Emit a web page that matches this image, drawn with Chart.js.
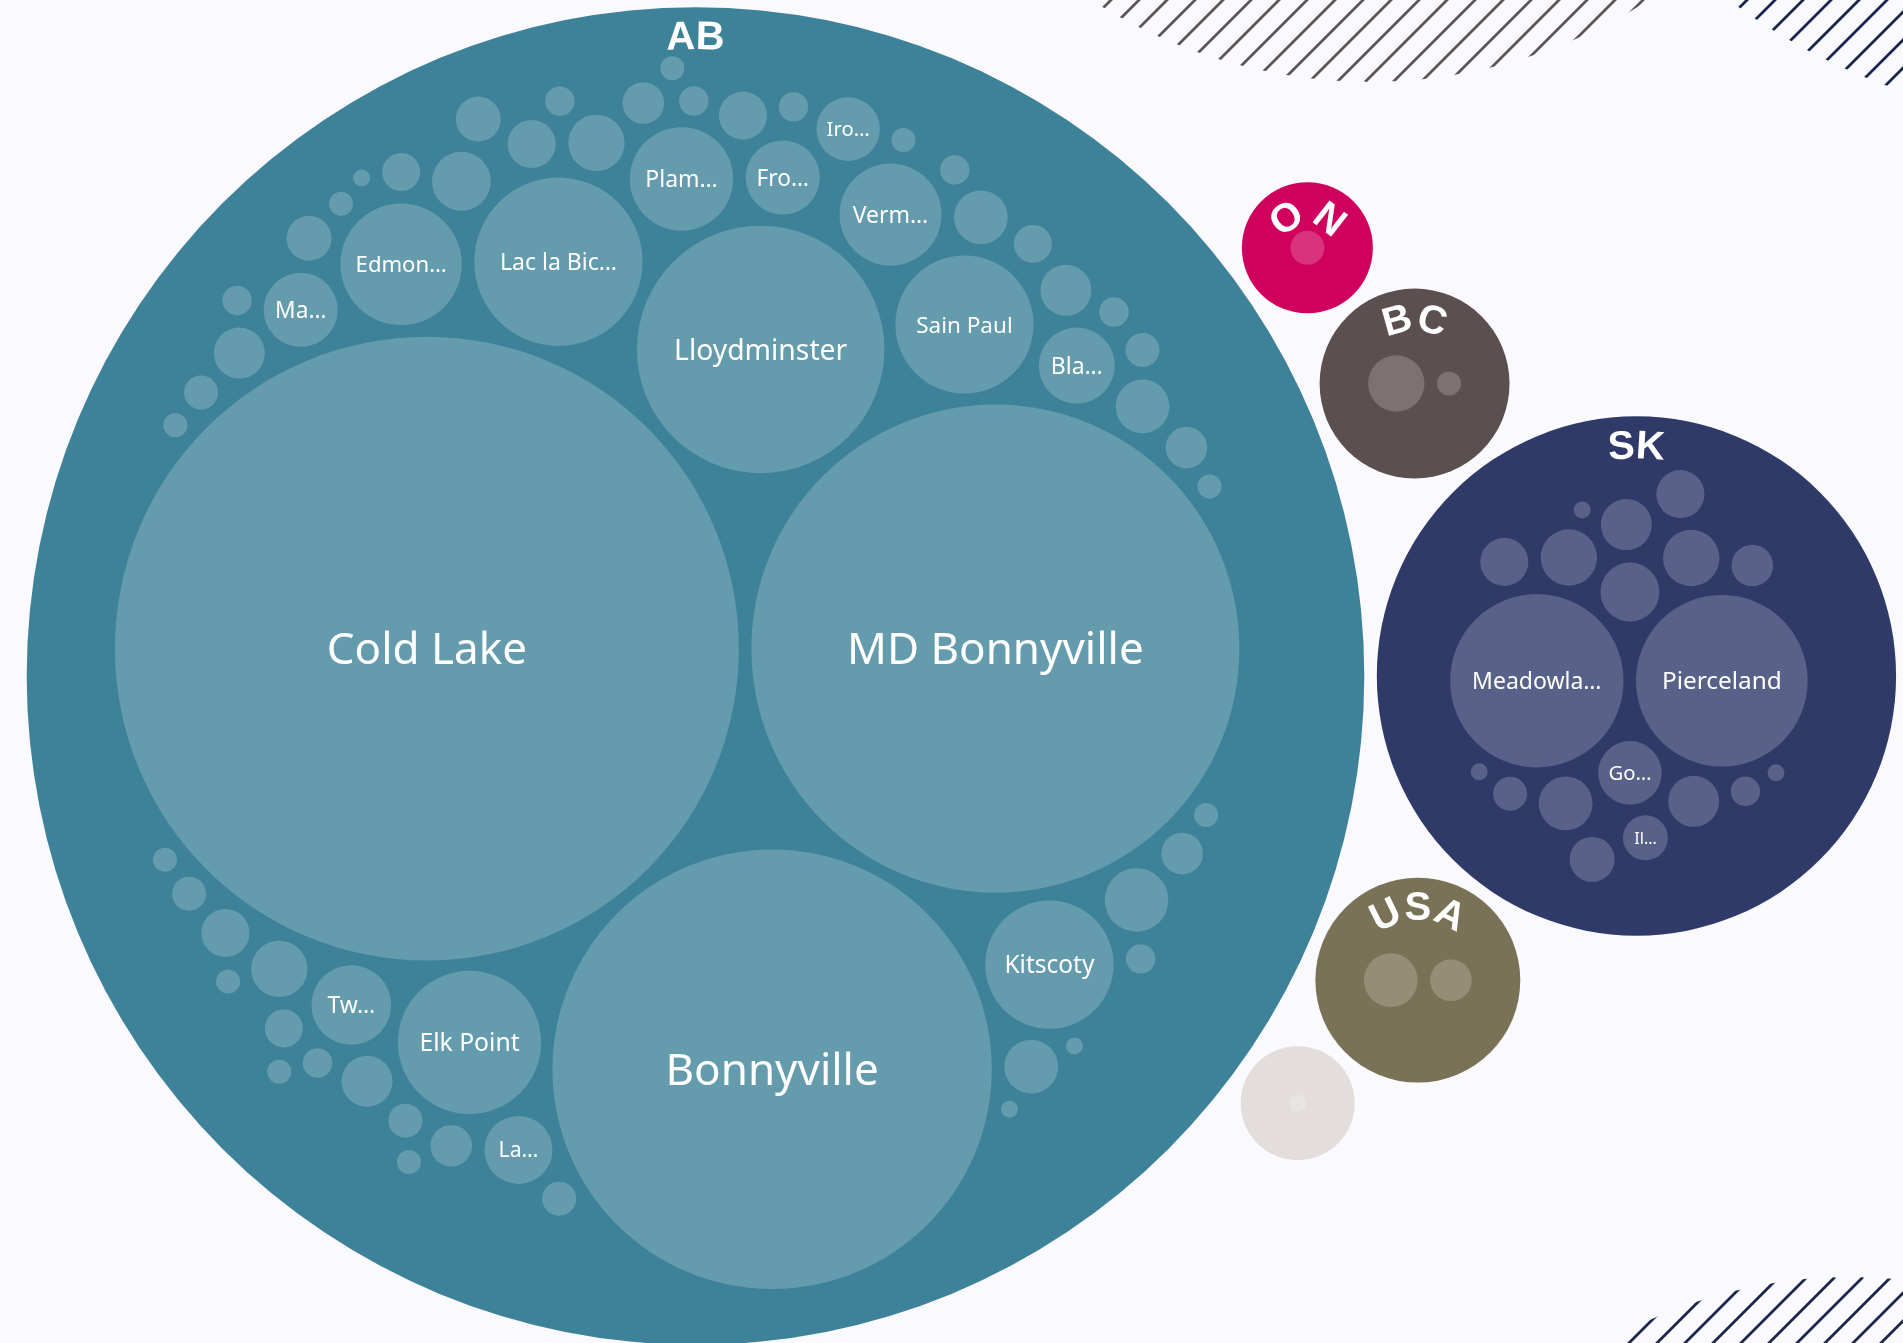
<!DOCTYPE html>
<html>
<head>
<meta charset="utf-8">
<title>Patients by community</title>
<script src="https://cdn.jsdelivr.net/npm/chart.js@4.4.1/dist/chart.umd.min.js"></script>
<style>
  html, body { margin: 0; padding: 0; background: #f9f9fe; overflow: hidden; }
  #wrap { width: 1903px; height: 1343px; position: relative; }
</style>
</head>
<body>
<div id="wrap"><canvas id="packChart"></canvas></div>
<script>
// outer circles
var regions = ['AB', 'SK', 'USA', 'BC', 'ON', ''];
var regionColors = ['#3e8299', '#2f3a69', '#7a7256', '#5c4f4f', '#d0005e', '#e3dedb'];

// communities inside each region (names shown as in the chart, '' = no label)
var abTowns = ['Cold Lake', 'MD Bonnyville', 'Bonnyville', 'Lloydminster', 'Lac la Bic…', 'Elk Point',
  'Sain Paul', 'Kitscoty', 'Edmon…', 'Plam…', 'Verm…', 'Tw…', 'Bla…', 'Ma…', 'Fro…', 'La…', 'Iro…'];
var abCounts = [1347, 824, 668, 212, 98, 71, 66, 57, 51, 37, 36, 22, 20, 19, 19, 16, 14,
  14, 12, 11, 11, 10, 10, 10, 9, 9, 9, 8, 8, 8, 7, 7, 6, 6, 6, 6, 5, 5, 5, 4, 4, 4, 4, 4,
  3, 3, 3, 3, 3, 3, 3, 3, 2, 2, 2, 2, 2, 2, 2, 2, 2, 2, 1, 1, 1];

var skTowns = ['Meadowla…', 'Pierceland', 'Go…', '', '', '', '', '', '', '', '', 'Il…'];
var skCounts = [104, 102, 14, 12, 11, 11, 10, 9, 9, 8, 8, 7, 7, 6, 4, 3, 1, 1, 1];

var usaCounts = [10, 6];
var bcCounts = [11, 2];
var onCounts = [4];
var otherCounts = [1];

var U = 8.5;     // px per sqrt(count)
var GAP = 12.5;  // space between circles
var PAD = 48.5;  // room between a region's rim and its communities

// --- front-chain circle packing (same idea as d3.packSiblings) ---
function place(b, a, c) {
  var dx = b.x - a.x, dy = b.y - a.y, d2 = dx * dx + dy * dy, x, y, a2, b2;
  if (d2) {
    a2 = a.r + c.r; a2 *= a2;
    b2 = b.r + c.r; b2 *= b2;
    if (a2 > b2) {
      x = (d2 + b2 - a2) / (2 * d2);
      y = Math.sqrt(Math.max(0, b2 / d2 - x * x));
      c.x = b.x - x * dx - y * dy;
      c.y = b.y - x * dy + y * dx;
    } else {
      x = (d2 + a2 - b2) / (2 * d2);
      y = Math.sqrt(Math.max(0, a2 / d2 - x * x));
      c.x = a.x + x * dx - y * dy;
      c.y = a.y + x * dy + y * dx;
    }
  } else {
    c.x = a.x + c.r;
    c.y = a.y;
  }
}

function intersects(a, b) {
  var dr = a.r + b.r - 1e-6, dx = b.x - a.x, dy = b.y - a.y;
  return dr > 0 && dr * dr > dx * dx + dy * dy;
}

function score(node) {
  var a = node._, b = node.next._, ab = a.r + b.r,
    dx = (a.x * b.r + b.x * a.r) / ab, dy = (a.y * b.r + b.y * a.r) / ab;
  return dx * dx + dy * dy;
}

function Node(c) { this._ = c; this.next = null; this.previous = null; }

function packSiblings(circles) {
  var n = circles.length, a, b, c, aa, ca, i, j, k, sj, sk;
  if (!n) return 0;
  a = circles[0]; a.x = 0; a.y = 0;
  if (n < 2) return a.r;
  b = circles[1]; a.x = -b.r; b.x = a.r; b.y = 0;
  if (n < 3) return a.r + b.r;
  place(b, a, c = circles[2]);
  a = new Node(a); b = new Node(b); c = new Node(c);
  a.next = c.previous = b;
  b.next = a.previous = c;
  c.next = b.previous = a;

  pack: for (i = 3; i < n; ++i) {
    place(a._, b._, c = circles[i]);
    c = new Node(c);
    j = b.next; k = a.previous; sj = b._.r; sk = a._.r;
    do {
      if (sj <= sk) {
        if (intersects(j._, c._)) {
          b = j; a.next = b; b.previous = a; --i;
          continue pack;
        }
        sj += j._.r; j = j.next;
      } else {
        if (intersects(k._, c._)) {
          a = k; a.next = b; b.previous = a; --i;
          continue pack;
        }
        sk += k._.r; k = k.previous;
      }
    } while (j !== k.next);

    c.previous = a; c.next = b; a.next = b.previous = b = c;
    aa = score(a);
    while ((c = c.next) !== b) {
      if ((ca = score(c)) < aa) { a = c; aa = ca; }
    }
    b = a.next;
  }

  var chain = [b._];
  c = b;
  while ((c = c.next) !== b) chain.push(c._);
  var e = enclose(chain);
  for (i = 0; i < n; ++i) { circles[i].x -= e.x; circles[i].y -= e.y; }
  return e.r;
}

// smallest circle around a set of circles
function enclose(circles) {
  var i = 0, n = circles.length, B = [], p, e;
  while (i < n) {
    p = circles[i];
    if (e && enclosesWeak(e, p)) ++i;
    else { B = extendBasis(B, p); e = encloseBasis(B); i = 0; }
  }
  return e;
}

function extendBasis(B, p) {
  var i, j;
  if (enclosesWeakAll(p, B)) return [p];
  for (i = 0; i < B.length; ++i) {
    if (enclosesNot(p, B[i]) && enclosesWeakAll(encloseBasis2(B[i], p), B)) return [B[i], p];
  }
  for (i = 0; i < B.length - 1; ++i) {
    for (j = i + 1; j < B.length; ++j) {
      if (enclosesNot(encloseBasis2(B[i], B[j]), p) &&
          enclosesNot(encloseBasis2(B[i], p), B[j]) &&
          enclosesNot(encloseBasis2(B[j], p), B[i]) &&
          enclosesWeakAll(encloseBasis3(B[i], B[j], p), B)) {
        return [B[i], B[j], p];
      }
    }
  }
  return [p];
}

function enclosesNot(a, b) {
  var dr = a.r - b.r, dx = b.x - a.x, dy = b.y - a.y;
  return dr < 0 || dr * dr < dx * dx + dy * dy;
}
function enclosesWeak(a, b) {
  var dr = a.r - b.r + Math.max(a.r, b.r, 1) * 1e-9, dx = b.x - a.x, dy = b.y - a.y;
  return dr > 0 && dr * dr > dx * dx + dy * dy;
}
function enclosesWeakAll(a, B) {
  for (var i = 0; i < B.length; ++i) if (!enclosesWeak(a, B[i])) return false;
  return true;
}
function encloseBasis(B) {
  if (B.length === 1) return { x: B[0].x, y: B[0].y, r: B[0].r };
  if (B.length === 2) return encloseBasis2(B[0], B[1]);
  return encloseBasis3(B[0], B[1], B[2]);
}
function encloseBasis2(a, b) {
  var x21 = b.x - a.x, y21 = b.y - a.y, r21 = b.r - a.r,
    l = Math.sqrt(x21 * x21 + y21 * y21);
  return { x: (a.x + b.x + x21 / l * r21) / 2, y: (a.y + b.y + y21 / l * r21) / 2, r: (l + a.r + b.r) / 2 };
}
function encloseBasis3(a, b, c) {
  var x1 = a.x, y1 = a.y, r1 = a.r, x2 = b.x, y2 = b.y, r2 = b.r, x3 = c.x, y3 = c.y, r3 = c.r,
    a2 = x1 - x2, a3 = x1 - x3, b2 = y1 - y2, b3 = y1 - y3,
    c2 = r2 - r1, c3 = r3 - r1,
    d1 = x1 * x1 + y1 * y1 - r1 * r1,
    d2 = d1 - x2 * x2 - y2 * y2 + r2 * r2,
    d3 = d1 - x3 * x3 - y3 * y3 + r3 * r3,
    ab = a3 * b2 - a2 * b3,
    xa = (b2 * d3 - b3 * d2) / (ab * 2) - x1,
    xb = (b3 * c2 - b2 * c3) / ab,
    ya = (a3 * d2 - a2 * d3) / (ab * 2) - y1,
    yb = (a2 * c3 - a3 * c2) / ab,
    A = xb * xb + yb * yb - 1,
    Bq = 2 * (r1 + xa * xb + ya * yb),
    C = xa * xa + ya * ya - r1 * r1,
    r = -(Math.abs(A) > 1e-6 ? (Bq + Math.sqrt(Bq * Bq - 4 * A * C)) / (2 * A) : C / Bq);
  return { x: x1 + xa + xb * r, y: y1 + ya + yb * r, r: r };
}

function packGroup(towns, counts) {
  var leaves = counts.map(function (v, i) {
    return { name: towns[i] || '', v: v, r: U * Math.sqrt(v) + GAP / 2, x: 0, y: 0 };
  });
  var e = packSiblings(leaves.slice().sort(function (a, b) { return b.v - a.v; }));
  leaves.forEach(function (l) { l.r -= GAP / 2; });
  return { leaves: leaves, R: e - GAP / 2 + PAD };
}

var groups = [
  packGroup(abTowns, abCounts),
  packGroup(skTowns, skCounts),
  packGroup([], usaCounts),
  packGroup([], bcCounts),
  packGroup([], onCounts),
  packGroup([], otherCounts)
];
var tops = groups.map(function (g) { return { g: g, r: g.R + GAP / 2, x: 0, y: 0 }; });
packSiblings(tops.slice().sort(function (a, b) { return b.r - a.r; }));

// view: the AB circle sits at the left of the frame; one axis unit = one pixel,
// so a bubble's r (which Chart.js takes in pixels) equals its packed radius
var W = 1903, H = 1343;
var viewX = tops[0].x - 695.5, viewY = tops[0].y - 676;

var regionPoints = [], townPoints = [];
tops.forEach(function (t, gi) {
  regionPoints.push({ x: t.x, y: t.y, r: t.g.R, label: regions[gi], color: regionColors[gi] });
  t.g.leaves.forEach(function (l) {
    townPoints.push({ x: t.x + l.x, y: t.y + l.y, r: l.r, label: l.name });
  });
});

function hatchCircle(ctx, cx, cy, r, step, color) {
  ctx.save();
  ctx.beginPath();
  ctx.arc(cx, cy, r, 0, Math.PI * 2);
  ctx.clip();
  ctx.strokeStyle = color;
  ctx.lineWidth = 2.8;
  ctx.beginPath();
  for (var x = cx - 2 * r; x <= cx + 2 * r; x += step) {
    ctx.moveTo(x - r, cy + r);
    ctx.lineTo(x + r, cy - r);
  }
  ctx.stroke();
  ctx.restore();
}

var decoPlugin = {
  id: 'deco',
  beforeDraw: function (chart) {
    var ctx = chart.ctx;
    ctx.save();
    ctx.fillStyle = '#f9f9fe';
    ctx.fillRect(0, 0, chart.width, chart.height);
    ctx.restore();
  },
  beforeDatasetsDraw: function (chart) {
    var ctx = chart.ctx;
    hatchCircle(ctx, 1370, -433, 515, 28, '#5e5556');
    hatchCircle(ctx, 2093, -482, 604, 28, '#18264e');
    hatchCircle(ctx, 1850, 1768, 491, 28, '#18264e');
  }
};

function arcText(ctx, text, cx, cy, rb) {
  var widths = [], total = 0;
  for (var i = 0; i < text.length; i++) {
    var w = ctx.measureText(text[i]).width;
    widths.push(w);
    total += w;
  }
  var acc = 0, start = -Math.PI / 2 - total / (2 * rb);
  for (i = 0; i < text.length; i++) {
    var a = start + (acc + widths[i] / 2) / rb;
    ctx.save();
    ctx.translate(cx + rb * Math.cos(a), cy + rb * Math.sin(a));
    ctx.rotate(a + Math.PI / 2);
    ctx.fillText(text[i], 0, 0);
    ctx.restore();
    acc += widths[i];
  }
}

var labelPlugin = {
  id: 'packLabels',
  afterDatasetsDraw: function (chart) {
    var ctx = chart.ctx;
    ctx.save();
    ctx.fillStyle = '#ffffff';
    ctx.textAlign = 'center';
    ctx.textBaseline = 'alphabetic';

    // region names bent along the top of each circle
    ctx.font = '700 40px "Liberation Sans", Arial, sans-serif';
    chart.getDatasetMeta(0).data.forEach(function (el, i) {
      var p = regionPoints[i];
      if (!p.label) return;
      arcText(ctx, p.label, el.x, el.y, el.options.radius - 42);
    });

    // community names
    chart.getDatasetMeta(1).data.forEach(function (el, i) {
      var p = townPoints[i];
      if (!p.label) return;
      var r = el.options.radius;
      ctx.font = '400 100px "Noto Sans", sans-serif';
      var w1 = ctx.measureText(p.label).width / 100;
      var cut = p.label.slice(-1) === '…';
      var size = cut ? Math.min(23, 0.45 * r + 6, 1.5 * r / w1) : Math.min(44, 1.4 * r / w1);
      ctx.font = '400 ' + size.toFixed(1) + 'px "Noto Sans", sans-serif';
      ctx.fillText(p.label, el.x, el.y + size * 0.714 / 2);
    });
    ctx.restore();
  }
};

new Chart(document.getElementById('packChart'), {
  type: 'bubble',
  data: {
    datasets: [{
      label: 'Regions',
      data: regionPoints,
      backgroundColor: function (ctx) { return ctx.raw ? ctx.raw.color : '#ccc'; },
      borderWidth: 0,
      hoverRadius: 0,
      order: 1
    }, {
      label: 'Communities',
      data: townPoints,
      backgroundColor: 'rgba(255,255,255,0.2)',
      borderWidth: 0,
      hoverRadius: 0,
      order: 0
    }]
  },
  options: {
    responsive: true,
    maintainAspectRatio: false,
    devicePixelRatio: 1,
    animation: false,
    events: [],
    layout: { padding: 0, autoPadding: false },
    scales: {
      x: { type: 'linear', display: false, min: viewX, max: viewX + W },
      y: { type: 'linear', display: false, min: viewY, max: viewY + H, reverse: true }
    },
    plugins: {
      legend: { display: false },
      tooltip: { enabled: false }
    }
  },
  plugins: [decoPlugin, labelPlugin]
});
</script>
</body>
</html>
